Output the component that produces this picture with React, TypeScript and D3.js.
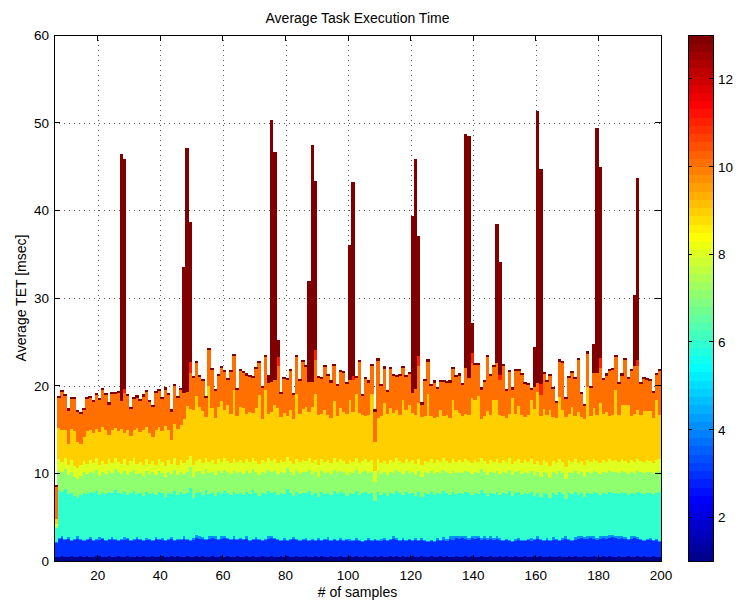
import React from 'react';
import * as d3 from 'd3';

// ---------- data ----------
const firstSample = 6; // bar i spans [firstSample + i, firstSample + i + 1]

const barTop = [
  8.7, 18.8, 19.5, 19.1, 17.4, 18.7, 18.7, 17.2, 17.0, 17.5,
  18.7, 18.8, 18.4, 19.2, 18.6, 19.7, 19.2, 18.1, 19.3, 19.3,
  19.4, 46.4, 45.8, 19.1, 17.6, 18.7, 18.9, 18.5, 19.0, 19.5,
  18.4, 17.8, 19.4, 19.6, 18.7, 19.8, 19.2, 17.3, 20.2, 18.8,
  19.7, 33.5, 47.1, 38.7, 21.1, 22.8, 21.2, 20.8, 18.8, 24.3,
  22.0, 19.6, 21.3, 22.3, 21.8, 20.9, 21.8, 23.6, 19.7, 21.9,
  21.7, 21.4, 21.2, 21.1, 22.1, 22.8, 20.0, 23.5, 21.2, 50.3,
  46.6, 25.2, 19.3, 21.0, 20.9, 21.9, 19.2, 23.5, 20.8, 22.9,
  22.4, 31.9, 47.5, 43.3, 21.1, 21.0, 22.4, 21.3, 20.6, 22.5,
  20.2, 21.8, 21.7, 20.4, 36.1, 43.2, 21.1, 22.9, 19.1, 21.0,
  20.6, 22.5, 17.3, 23.1, 20.2, 22.2, 19.5, 22.1, 21.3, 21.2,
  21.3, 22.3, 21.2, 21.6, 39.4, 45.9, 37.1, 18.1, 20.8, 23.0,
  20.2, 20.6, 19.9, 20.7, 20.7, 20.5, 20.6, 22.1, 21.2, 21.4,
  20.3, 48.7, 48.5, 27.2, 22.6, 22.6, 19.8, 20.7, 23.5, 21.3,
  22.4, 38.4, 34.1, 22.5, 19.6, 21.8, 19.8, 21.9, 21.9, 21.5,
  20.4, 20.3, 19.7, 24.4, 51.3, 44.7, 21.6, 20.7, 21.3, 19.9,
  18.3, 23.0, 22.8, 18.7, 21.1, 21.7, 21.0, 23.2, 19.3, 17.9,
  23.9, 20.0, 24.8, 49.4, 44.9, 20.9, 21.4, 21.9, 22.0, 23.5,
  20.4, 21.4, 23.2, 21.0, 21.9, 30.3, 43.7, 20.4, 21.0, 20.9,
  20.8, 19.4, 21.5, 21.9,
];

const navyTop = [
  0.5, 0.5, 0.6, 0.5, 0.5, 0.6, 0.5, 0.5, 0.6, 0.5,
  0.6, 0.5, 0.5, 0.6, 0.6, 0.5, 0.5, 0.6, 0.5, 0.5,
  0.6, 0.5, 0.5, 0.6, 0.5, 0.5, 0.6, 0.5, 0.6, 0.5,
  0.5, 0.6, 0.5, 0.5, 0.6, 0.5, 0.5, 0.6, 0.5, 0.6,
  0.5, 0.5, 0.6, 0.5, 0.5, 0.6, 0.5, 0.6, 0.5, 0.5,
  0.6, 0.5, 0.5, 0.6, 0.5, 0.6, 0.5, 0.5, 0.6, 0.5,
  0.5, 0.6, 0.5, 0.6, 0.5, 0.5, 0.6, 0.5, 0.5, 0.6,
  0.5, 0.5, 0.6, 0.5, 0.6, 0.5, 0.5, 0.6, 0.5, 0.5,
  0.6, 0.5, 0.5, 0.6, 0.5, 0.6, 0.5, 0.5, 0.6, 0.5,
  0.5, 0.6, 0.5, 0.5, 0.6, 0.5, 0.6, 0.5, 0.5, 0.6,
  0.5, 0.5, 0.6, 0.5, 0.6, 0.5, 0.5, 0.6, 0.5, 0.6,
  0.5, 0.6, 0.5, 0.5, 0.6, 0.5, 0.5, 0.6, 0.5, 0.5,
  0.6, 0.5, 0.5, 0.6, 0.5, 0.6, 0.5, 0.5, 0.6, 0.5,
  0.5, 0.6, 0.5, 0.6, 0.5, 0.5, 0.6, 0.5, 0.5, 0.6,
  0.5, 0.5, 0.6, 0.5, 0.6, 0.5, 0.5, 0.6, 0.5, 0.5,
  0.6, 0.5, 0.5, 0.6, 0.5, 0.6, 0.5, 0.5, 0.6, 0.5,
  0.5, 0.6, 0.5, 0.5, 0.6, 0.5, 0.6, 0.5, 0.5, 0.6,
  0.5, 0.5, 0.6, 0.5, 0.5, 0.6, 0.5, 0.6, 0.5, 0.5,
  0.6, 0.5, 0.5, 0.6, 0.5, 0.5, 0.6, 0.5, 0.6, 0.5,
  0.5, 0.6, 0.5, 0.5,
];

const blueTop = [
  2.0, 2.5, 2.6, 2.4, 2.5, 2.3, 2.4, 2.5, 2.4, 2.3,
  2.4, 2.5, 2.3, 2.4, 2.4, 2.5, 2.3, 2.4, 2.5, 2.4,
  2.3, 2.4, 2.4, 2.5, 2.3, 2.4, 2.5, 2.4, 2.3, 2.4,
  2.4, 2.3, 2.5, 2.4, 2.4, 2.3, 2.4, 2.5, 2.3, 2.4,
  2.4, 2.5, 2.4, 2.3, 2.4, 2.6, 2.5, 2.5, 2.4, 2.5,
  2.6, 2.5, 2.4, 2.5, 2.6, 2.5, 2.4, 2.5, 2.4, 2.5,
  2.4, 2.5, 2.3, 2.4, 2.5, 2.4, 2.3, 2.4, 2.5, 2.6,
  2.5, 2.4, 2.3, 2.4, 2.3, 2.4, 2.5, 2.4, 2.3, 2.4,
  2.4, 2.3, 2.4, 2.3, 2.4, 2.3, 2.4, 2.4, 2.3, 2.4,
  2.3, 2.4, 2.3, 2.4, 2.3, 2.3, 2.4, 2.3, 2.2, 2.3,
  2.4, 2.3, 2.4, 2.3, 2.3, 2.4, 2.3, 2.4, 2.5, 2.4,
  2.3, 2.4, 2.3, 2.4, 2.3, 2.4, 2.3, 2.4, 2.3, 2.2,
  2.3, 2.2, 2.4, 2.3, 2.4, 2.3, 2.5, 2.4, 2.6, 2.5,
  2.6, 2.5, 2.4, 2.6, 2.5, 2.6, 2.4, 2.5, 2.4, 2.5,
  2.4, 2.5, 2.4, 2.3, 2.4, 2.3, 2.2, 2.3, 2.4, 2.3,
  2.3, 2.4, 2.3, 2.4, 2.5, 2.4, 2.3, 2.4, 2.3, 2.4,
  2.4, 2.3, 2.4, 2.5, 2.4, 2.3, 2.4, 2.5, 2.6, 2.5,
  2.5, 2.6, 2.5, 2.4, 2.5, 2.6, 2.5, 2.6, 2.7, 2.6,
  2.5, 2.6, 2.5, 2.4, 2.5, 2.6, 2.5, 2.4, 2.3, 2.4,
  2.4, 2.3, 2.4, 2.2,
];

const lightBlueTop = [
  2.2, 2.6, 2.8, 2.5, 2.7, 2.4, 2.5, 2.8, 2.5, 2.4,
  2.5, 2.7, 2.4, 2.5, 2.7, 2.6, 2.4, 2.5, 2.7, 2.5,
  2.4, 2.5, 2.7, 2.6, 2.4, 2.5, 2.7, 2.5, 2.4, 2.6,
  2.5, 2.4, 2.7, 2.5, 2.6, 2.4, 2.5, 2.7, 2.4, 2.5,
  2.5, 2.8, 2.5, 2.4, 2.6, 3.0, 2.8, 2.7, 2.5, 2.9,
  2.9, 2.8, 2.5, 2.8, 2.9, 2.6, 2.5, 2.8, 2.5, 2.6,
  2.5, 2.8, 2.4, 2.5, 2.7, 2.5, 2.4, 2.5, 2.8, 2.9,
  2.6, 2.5, 2.4, 2.6, 2.4, 2.5, 2.7, 2.5, 2.4, 2.5,
  2.6, 2.4, 2.5, 2.4, 2.6, 2.4, 2.5, 2.7, 2.4, 2.5,
  2.4, 2.6, 2.4, 2.5, 2.5, 2.4, 2.6, 2.4, 2.3, 2.4,
  2.6, 2.4, 2.5, 2.4, 2.5, 2.6, 2.4, 2.5, 2.8, 2.6,
  2.4, 2.6, 2.4, 2.5, 2.4, 2.6, 2.4, 2.6, 2.4, 2.3,
  2.4, 2.3, 2.6, 2.4, 2.7, 2.5, 2.8, 2.8, 2.9, 2.8,
  2.9, 2.8, 2.6, 2.9, 2.8, 2.9, 2.6, 2.8, 2.6, 2.8,
  2.6, 2.8, 2.6, 2.4, 2.5, 2.4, 2.3, 2.5, 2.6, 2.4,
  2.4, 2.5, 2.6, 2.5, 2.8, 2.5, 2.4, 2.6, 2.4, 2.7,
  2.5, 2.4, 2.6, 2.8, 2.5, 2.4, 2.7, 2.8, 2.9, 2.7,
  2.8, 2.9, 2.8, 2.6, 2.8, 2.9, 2.8, 3.0, 3.0, 2.9,
  2.8, 2.9, 2.7, 2.5, 2.8, 2.9, 2.7, 2.5, 2.4, 2.5,
  2.6, 2.4, 2.5, 2.3,
];

const cyanTop = [
  3.8, 8.1, 7.9, 8.2, 7.6, 7.8, 7.4, 7.2, 7.5, 7.8,
  7.6, 7.9, 7.7, 8.0, 7.5, 7.8, 7.6, 7.9, 7.7, 8.1,
  7.8, 7.6, 7.9, 7.5, 7.8, 8.0, 7.6, 7.7, 7.4, 7.9,
  7.6, 7.8, 7.5, 7.9, 7.7, 7.3, 7.8, 7.6, 8.0, 7.5,
  7.9, 7.6, 7.8, 8.3, 7.2, 7.7, 7.9, 7.5, 8.1, 7.6,
  7.8, 7.4, 7.9, 7.6, 8.0, 7.7, 7.5, 7.9, 7.6, 7.8,
  7.5, 7.9, 7.6, 8.1, 7.7, 7.4, 7.8, 7.6, 8.0, 7.7,
  7.9, 7.5, 7.8, 7.6, 8.2, 7.7, 7.4, 7.9, 7.6, 7.8,
  7.7, 8.0, 7.5, 7.8, 7.3, 7.9, 7.6, 7.8, 7.5, 8.0,
  7.6, 7.9, 7.7, 7.4, 7.8, 7.6, 8.0, 7.5, 7.7, 7.9,
  7.6, 7.8, 6.8, 7.9, 7.5, 7.7, 7.4, 7.8, 7.6, 8.0,
  7.7, 7.5, 7.9, 7.6, 7.8, 7.4, 7.9, 7.3, 7.7, 7.6,
  7.9, 7.5, 7.8, 7.6, 8.0, 7.7, 7.5, 7.9, 7.6, 7.8,
  7.6, 7.9, 7.7, 7.5, 7.8, 7.6, 8.1, 7.7, 7.4, 7.8,
  7.6, 7.9, 7.5, 7.8, 7.6, 8.0, 7.4, 7.7, 7.9, 7.5,
  7.8, 7.6, 7.9, 7.4, 7.7, 7.3, 7.8, 7.6, 7.2, 7.7,
  7.5, 7.9, 7.6, 7.1, 7.8, 7.6, 7.9, 7.5, 7.7, 7.3,
  7.8, 7.6, 7.9, 7.7, 7.5, 7.8, 7.6, 7.9, 7.7, 7.8,
  7.6, 7.9, 7.7, 7.5, 7.8, 7.6, 7.9, 7.7, 7.6, 7.8,
  7.7, 7.5, 7.8, 7.9,
];

const greenTop = [
  4.0, 10.3, 10.1, 10.5, 9.8, 10.2, 9.6, 9.4, 9.7, 10.1,
  9.9, 10.2, 10.0, 10.4, 9.7, 10.1, 9.9, 10.3, 10.0, 10.5,
  10.1, 9.9, 10.3, 9.8, 10.1, 10.4, 9.9, 10.0, 9.7, 10.3,
  9.9, 10.1, 9.8, 10.3, 10.0, 9.6, 10.2, 9.9, 10.4, 9.8,
  10.2, 9.9, 10.2, 10.7, 9.6, 10.1, 10.3, 9.9, 10.5, 10.0,
  10.2, 9.8, 10.3, 10.0, 10.4, 10.1, 9.9, 10.3, 10.0, 10.2,
  9.9, 10.3, 10.0, 10.5, 10.1, 9.8, 10.2, 10.0, 10.4, 10.1,
  10.3, 9.9, 10.2, 10.0, 10.6, 10.1, 9.8, 10.3, 10.0, 10.2,
  10.1, 10.4, 9.9, 10.2, 9.6, 10.3, 10.0, 10.2, 9.9, 10.4,
  10.0, 10.3, 10.1, 9.8, 10.2, 10.0, 10.4, 9.9, 10.1, 10.3,
  10.0, 10.2, 9.0, 10.3, 9.9, 10.1, 9.8, 10.2, 10.0, 10.4,
  10.1, 9.9, 10.3, 10.0, 10.2, 9.8, 10.3, 9.6, 10.1, 10.0,
  10.3, 9.9, 10.2, 10.0, 10.4, 10.1, 9.9, 10.3, 10.0, 10.2,
  10.0, 10.3, 10.1, 9.9, 10.2, 10.0, 10.5, 10.1, 9.8, 10.2,
  10.0, 10.3, 9.9, 10.2, 10.0, 10.4, 9.8, 10.1, 10.3, 9.9,
  10.2, 10.0, 10.3, 9.8, 10.1, 9.6, 10.2, 10.0, 9.5, 10.1,
  9.9, 10.3, 10.0, 9.4, 10.2, 10.0, 10.3, 9.9, 10.1, 9.6,
  10.2, 10.0, 10.3, 10.1, 9.9, 10.2, 10.0, 10.3, 10.1, 10.2,
  10.0, 10.3, 10.1, 9.9, 10.2, 10.0, 10.3, 10.1, 10.0, 10.2,
  10.1, 9.9, 10.2, 10.3,
];

const limeTop = [
  4.2, 11.6, 11.3, 11.8, 11.0, 11.5, 10.8, 10.6, 10.9, 11.4,
  11.1, 11.5, 11.2, 11.7, 10.9, 11.4, 11.1, 11.6, 11.2, 11.8,
  11.3, 11.1, 11.6, 11.0, 11.4, 11.7, 11.1, 11.3, 10.9, 11.6,
  11.1, 11.4, 11.0, 11.6, 11.3, 10.8, 11.5, 11.1, 11.7, 11.0,
  11.5, 11.2, 11.5, 12.0, 10.9, 11.4, 11.6, 11.2, 11.8, 11.3,
  11.5, 11.1, 11.6, 11.3, 11.7, 11.4, 11.2, 11.6, 11.3, 11.5,
  11.2, 11.6, 11.3, 11.8, 11.4, 11.1, 11.5, 11.3, 11.7, 11.4,
  11.6, 11.2, 11.5, 11.3, 11.9, 11.4, 11.1, 11.6, 11.3, 11.5,
  11.4, 11.7, 11.2, 11.5, 10.9, 11.6, 11.3, 11.5, 11.2, 11.7,
  11.3, 11.6, 11.4, 11.1, 11.5, 11.3, 11.7, 11.2, 11.4, 11.6,
  11.3, 11.5, 10.3, 11.6, 11.2, 11.4, 11.1, 11.5, 11.3, 11.7,
  11.4, 11.2, 11.6, 11.3, 11.5, 11.1, 11.6, 10.9, 11.4, 11.3,
  11.6, 11.2, 11.5, 11.3, 11.7, 11.4, 11.2, 11.6, 11.3, 11.5,
  11.3, 11.6, 11.4, 11.2, 11.5, 11.3, 11.8, 11.4, 11.1, 11.5,
  11.3, 11.6, 11.2, 11.5, 11.3, 11.7, 11.1, 11.4, 11.6, 11.2,
  11.5, 11.3, 11.6, 11.1, 11.4, 10.9, 11.5, 11.3, 10.8, 11.4,
  11.2, 11.6, 11.3, 10.7, 11.5, 11.3, 11.6, 11.2, 11.4, 10.9,
  11.5, 11.3, 11.6, 11.4, 11.2, 11.5, 11.3, 11.6, 11.4, 11.5,
  11.3, 11.6, 11.4, 11.2, 11.5, 11.3, 11.6, 11.4, 11.3, 11.5,
  11.4, 11.2, 11.5, 11.6,
];

const goldTop = [
  4.8, 15.2, 15.0, 14.9, 13.3, 15.1, 14.8, 13.6, 13.4, 14.2,
  14.8, 15.0, 14.6, 15.1, 14.7, 15.3, 14.9, 14.4, 15.0, 15.2,
  14.8, 15.1, 14.6, 15.0, 14.3, 14.9, 15.2, 14.7, 14.9, 15.3,
  14.6, 14.2, 15.0, 15.3, 14.8, 15.4, 14.9, 13.8, 15.6, 15.1,
  15.5, 16.2, 17.7, 17.3, 17.2, 18.8, 17.6, 17.1, 16.4, 20.0,
  17.5, 16.3, 17.6, 18.3, 17.2, 17.8, 16.8, 19.5, 16.5, 17.6,
  17.5, 16.8, 17.0, 16.9, 17.4, 18.9, 16.2, 19.5, 16.8, 17.0,
  17.8, 17.4, 16.4, 16.9, 16.5, 17.2, 16.2, 19.0, 16.8, 17.3,
  17.6, 17.0, 17.6, 19.1, 16.6, 16.8, 17.2, 16.7, 16.3, 18.2,
  16.5, 17.4, 17.0, 16.8, 18.4, 17.0, 19.1, 16.9, 16.7, 16.5,
  16.7, 19.0, 13.6, 16.3, 16.5, 18.0, 16.8, 17.4, 16.9, 17.2,
  16.7, 18.4, 17.2, 17.8, 16.9, 16.6, 18.0, 16.4, 16.5, 19.1,
  16.5, 16.3, 16.4, 17.2, 16.5, 16.6, 16.3, 18.4, 17.2, 16.9,
  16.5, 16.8, 16.6, 18.6, 18.4, 18.8, 16.2, 16.5, 17.1, 16.6,
  18.4, 18.4, 16.7, 16.5, 16.3, 16.8, 18.6, 16.8, 17.7, 16.7,
  16.4, 16.6, 18.4, 17.3, 19.3, 16.5, 17.3, 16.6, 17.2, 16.4,
  16.3, 18.7, 17.2, 16.4, 16.8, 17.6, 16.5, 17.0, 16.4, 16.2,
  19.9, 16.5, 17.4, 16.7, 18.0, 16.8, 17.0, 16.5, 16.7, 19.5,
  16.6, 17.8, 17.8, 17.8, 16.5, 16.8, 17.2, 16.6, 17.1, 17.1,
  17.1, 16.3, 18.4, 16.7,
];

// spike bars: [sample, top of orange, top of red]; the rest of the bar is dark red
const spikeSamples = [27, 28, 47, 48, 49, 74, 75, 76, 77, 87, 88, 89, 100, 101, 120, 121, 122, 137, 138, 139, 147, 148, 159, 160, 161, 178, 179, 180, 191, 192];
const spikeOrangeTop = [18.2, 19.2, 19.2, 19.3, 21.4, 20.3, 20.4, 20.6, 22.2, 20.4, 20.4, 22.9, 20.6, 20.6, 19.2, 19.6, 22.2, 22.0, 20.9, 22.6, 22.6, 20.6, 19.9, 20.3, 18.9, 21.4, 21.4, 22.0, 22.2, 22.2];
const spikeRedTop = [18.2, 19.6, 19.2, 19.3, 22.7, 20.3, 20.4, 20.6, 23.3, 20.4, 20.4, 24.1, 20.6, 21.1, 19.2, 19.6, 23.4, 22.0, 20.9, 23.7, 22.6, 21.2, 19.9, 20.3, 20.2, 21.4, 21.4, 23.1, 22.2, 22.9];
const capHeight = 0.25; // thin dark-red cap on ordinary bars

const xTicks = [20, 40, 60, 80, 100, 120, 140, 160, 180, 200];
const yTicks = [0, 10, 20, 30, 40, 50, 60];
const cbTicks = [2, 4, 6, 8, 10, 12];

const titleText = 'Average Task Execution Time';
const xLabelText = '# of samples';
const yLabelText = 'Average TET [msec]';

// ---------- colormap (MATLAB jet, 64 entries) ----------
function jetMap(m: number): string[] {
  const n = Math.ceil(m / 4);
  const u: number[] = [];
  for (let i = 1; i <= n; i++) u.push(i / n);
  for (let i = 1; i < n; i++) u.push(1);
  for (let i = n; i >= 1; i--) u.push(i / n);
  const gStart = Math.ceil(n / 2) - (m % 4 === 1 ? 1 : 0);
  const r = new Array(m).fill(0), g = new Array(m).fill(0), b = new Array(m).fill(0);
  u.forEach((v, k) => {
    const gi = gStart + k + 1;
    const ri = gi + n;
    const bi = gi - n;
    if (gi >= 1 && gi <= m) g[gi - 1] = v;
    if (ri >= 1 && ri <= m) r[ri - 1] = v;
    if (bi >= 1 && bi <= m) b[bi - 1] = v;
  });
  return r.map((_, i) => d3.rgb(r[i] * 255, g[i] * 255, b[i] * 255).formatHex());
}
const JET = jetMap(64);
const cMin = 1, cMax = 13;
const layerColor = (layer: number) =>
  JET[Math.min(63, Math.floor(((layer - cMin) / (cMax - cMin)) * 64))];

const keys = ['navy', 'blue', 'lightBlue', 'cyan', 'green', 'lime', 'gold', 'orange', 'red', 'darkRed'];
const keyLayer: Record<string, number> = {
  navy: 1, blue: 3, lightBlue: 4, cyan: 6, green: 7, lime: 8, gold: 9, orange: 10, red: 11, darkRed: 13,
};

// ---------- layout ----------
const W = 743, H = 604;
const L = 54, R = 661, T = 35, B = 561;
const CBX0 = 688, CBX1 = 713;
const FONT = "'Liberation Sans', Arial, Helvetica, sans-serif";

export default function App() {
  const x = d3.scaleLinear().domain([6, 200]).range([L, R]);
  const y = d3.scaleLinear().domain([0, 60]).range([B, T]);
  const cb = d3.scaleLinear().domain([cMin, cMax]).range([B, T]);

  const rows = barTop.map((top, i) => {
    const sample = firstSample + i;
    const si = spikeSamples.indexOf(sample);
    const oTop = si >= 0 ? spikeOrangeTop[si] : top - capHeight;
    const rTop = si >= 0 ? spikeRedTop[si] : oTop;
    const bounds = [0, navyTop[i], blueTop[i], lightBlueTop[i], cyanTop[i], greenTop[i], limeTop[i], goldTop[i], oTop, rTop, top];
    const row: any = { sample };
    keys.forEach((k, j) => { row[k] = Math.max(0, bounds[j + 1] - bounds[j]); });
    return row;
  });
  const stacked = d3.stack().keys(keys)(rows);

  const gridDash = '1,4';

  return (
    <svg width={W} height={H} style={{ position: 'absolute', left: 0, top: 0, background: '#fff' }} fontFamily={FONT}>
      <defs>
        <clipPath id="plotClip">
          <rect x={L} y={T} width={R - L} height={B - T} />
        </clipPath>
      </defs>
      <rect x={0} y={0} width={W} height={H} fill="#fff" />

      {/* grid */}
      <g stroke="#000" strokeWidth={0.8} strokeDasharray={gridDash} opacity={0.8}>
        {xTicks.filter(t => t < 200).map(t => (
          <line key={'gx' + t} x1={Math.round(x(t)) + 0.5} x2={Math.round(x(t)) + 0.5} y1={T} y2={B} />
        ))}
        {yTicks.filter(t => t > 0 && t < 60).map(t => (
          <line key={'gy' + t} x1={L} x2={R} y1={Math.round(y(t)) + 0.5} y2={Math.round(y(t)) + 0.5} />
        ))}
      </g>

      {/* stacked bars */}
      <g clipPath="url(#plotClip)" shapeRendering="crispEdges">
        {stacked.map(series => (
          <g key={series.key} fill={layerColor(keyLayer[series.key])}>
            {series.map((d: any, i) => {
              const h = y(d[0]) - y(d[1]);
              if (h <= 0.01) return null;
              const s = d.data.sample;
              return (
                <rect key={i} x={x(s)} width={x(s + 1) - x(s) + 0.4} y={y(d[1])} height={h} />
              );
            })}
          </g>
        ))}
      </g>

      {/* axes box and ticks */}
      <g stroke="#000" strokeWidth={1} fill="none" shapeRendering="crispEdges">
        <rect x={L} y={T} width={R - L} height={B - T} />
        {xTicks.map(t => (
          <g key={'tx' + t}>
            <line x1={x(t)} x2={x(t)} y1={B} y2={B - 6} />
            <line x1={x(t)} x2={x(t)} y1={T} y2={T + 6} />
          </g>
        ))}
        {yTicks.map(t => (
          <g key={'ty' + t}>
            <line x1={L} x2={L + 6} y1={y(t)} y2={y(t)} />
            <line x1={R} x2={R - 6} y1={y(t)} y2={y(t)} />
          </g>
        ))}
      </g>

      {/* tick labels */}
      <g fontSize={13.5} fill="#000">
        {xTicks.map(t => (
          <text key={'lx' + t} x={x(t)} y={B + 19} textAnchor="middle">{t}</text>
        ))}
        {yTicks.map(t => (
          <text key={'ly' + t} x={L - 5} y={y(t) + 5} textAnchor="end">{t}</text>
        ))}
      </g>

      {/* titles */}
      <text x={(L + R) / 2} y={23} textAnchor="middle" fontSize={14}>{titleText}</text>
      <text x={(L + R) / 2} y={597} textAnchor="middle" fontSize={14}>{xLabelText}</text>
      <text transform={`translate(26, ${(T + B) / 2}) rotate(-90)`} textAnchor="middle" fontSize={14}>{yLabelText}</text>

      {/* colorbar */}
      <g shapeRendering="crispEdges">
        {JET.map((c, i) => {
          const v0 = cMin + (i * (cMax - cMin)) / 64;
          const v1 = cMin + ((i + 1) * (cMax - cMin)) / 64;
          return <rect key={'cb' + i} x={CBX0} width={CBX1 - CBX0} y={cb(v1)} height={cb(v0) - cb(v1) + 0.5} fill={c} />;
        })}
        <rect x={CBX0} y={T} width={CBX1 - CBX0} height={B - T} fill="none" stroke="#000" strokeWidth={1} />
        {cbTicks.map(t => (
          <g key={'cbt' + t} stroke="#000">
            <line x1={CBX0} x2={CBX0 + 4} y1={cb(t)} y2={cb(t)} />
            <line x1={CBX1} x2={CBX1 - 4} y1={cb(t)} y2={cb(t)} />
          </g>
        ))}
      </g>
      <g fontSize={13.5}>
        {cbTicks.map(t => (
          <text key={'cbl' + t} x={CBX1 + 5} y={cb(t) + 5}>{t}</text>
        ))}
      </g>
    </svg>
  );
}
